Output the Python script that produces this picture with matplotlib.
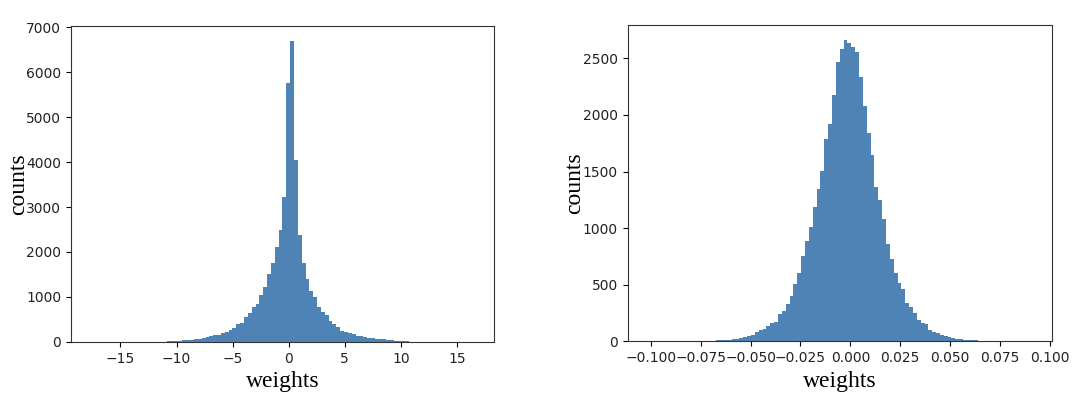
import numpy as np
import matplotlib
matplotlib.use("Agg")
import matplotlib.pyplot as plt

# bin counts (100 bins each)
left_range = (-17.7, 16.6)
left_counts = [
    1, 0, 0, 0, 0, 0, 0, 0, 0, 0,
    1, 1, 1, 2, 2, 3, 4, 6, 8, 10,
    14, 18, 22, 28, 35, 42, 50, 60, 70, 81,
    104, 133, 148, 163, 193, 230, 267, 304, 390, 430,
    545, 650, 770, 844, 1037, 1230, 1504, 1760, 2100, 2489,
    3215, 5748, 6689, 4050, 2378, 1748, 1395, 1137, 995, 778,
    655, 596, 474, 392, 322, 252, 222, 190, 168, 140,
    128, 105, 92, 78, 70, 60, 55, 45, 35, 28,
    22, 16, 12, 9, 7, 5, 4, 3, 2, 2,
    1, 1, 0, 1, 0, 0, 0, 0, 0, 1,
]

right_range = (-0.1019, 0.0912)
right_counts = [
    1, 0, 0, 0, 0, 0, 0, 1, 0, 1,
    1, 1, 2, 2, 3, 3, 5, 6, 9, 11,
    12, 14, 20, 24, 29, 35, 47, 56, 85, 100,
    111, 135, 164, 170, 238, 270, 329, 400, 506, 600,
    756, 886, 1013, 1189, 1343, 1504, 1784, 1920, 2176, 2470,
    2579, 2662, 2632, 2603, 2559, 2331, 2079, 1838, 1646, 1366,
    1248, 1078, 860, 724, 600, 512, 459, 335, 306, 247,
    188, 165, 153, 100, 85, 70, 59, 47, 38, 29,
    24, 18, 15, 14, 11, 9, 7, 5, 4, 3,
    2, 2, 1, 1, 1, 0, 1, 0, 0, 1,
]

bar_color = "#5083B5"
label_font = dict(family="Liberation Serif", size=17)

fig = plt.figure(figsize=(10.8, 4.13), dpi=100)
ax1 = fig.add_axes([0.0657, 0.172, 0.3917, 0.765])
ax2 = fig.add_axes([0.5812, 0.1736, 0.3926, 0.766])


def draw_hist(ax, counts, rng, ypad):
    edges = np.linspace(rng[0], rng[1], len(counts) + 1)
    ax.hist(edges[:-1], bins=edges, weights=counts, color=bar_color)
    ax.set_xlabel("weights", **label_font)
    ax.set_ylabel("counts", labelpad=ypad, **label_font)
    ax.tick_params(labelsize=10, labelcolor="#222222")
    for s in ax.spines.values():
        s.set_color("#333333")


draw_hist(ax1, left_counts, left_range, -2)
ax1.set_xticks([-15, -10, -5, 0, 5, 10, 15])
ax1.set_yticks(range(0, 7001, 1000))

draw_hist(ax2, right_counts, right_range, -1.5)
ax2.set_xticks([-0.100, -0.075, -0.050, -0.025, 0.0, 0.025, 0.050, 0.075, 0.100])
ax2.set_xticklabels(["\u22120.100", "\u22120.075", "\u22120.050", "\u22120.025",
                     "0.000", "0.025", "0.050", "0.075", "0.100"])
ax2.set_yticks(range(0, 2501, 500))

fig.savefig("out.png", dpi=100)
